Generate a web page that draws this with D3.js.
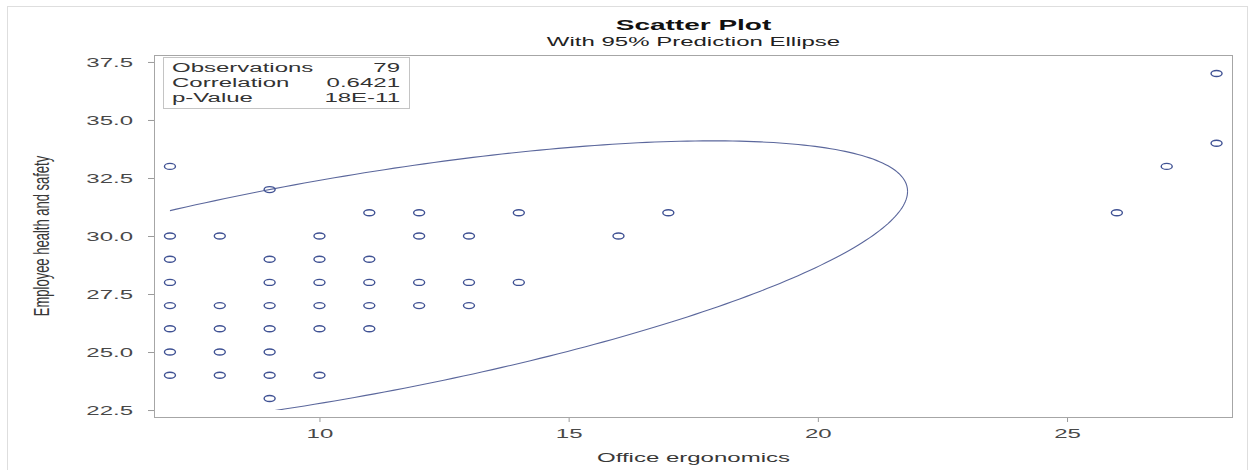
<!DOCTYPE html>
<html>
<head>
<meta charset="utf-8">
<script src="https://cdn.jsdelivr.net/npm/d3@7"></script>
<style>
  body { margin: 0; background: #fff; }
  svg { display: block; }
  text { font-family: "Liberation Sans", Arial, sans-serif; }
</style>
</head>
<body>
<svg id="chart" width="1255" height="470"></svg>
<script>
// Observed pairs (distinct positions; repeated observations overplot)
const officeErgonomics = [
  7, 7, 7, 7, 7, 7, 7, 7,
  8, 8, 8, 8, 8,
  9, 9, 9, 9, 9, 9, 9, 9,
  10, 10, 10, 10, 10, 10,
  11, 11, 11, 11, 11,
  12, 12, 12, 12,
  13, 13, 13,
  14, 14,
  16, 17, 26, 27, 28, 28
];
const employeeSafety = [
  33, 30, 29, 28, 27, 26, 25, 24,
  30, 27, 26, 25, 24,
  32, 29, 28, 27, 26, 25, 24, 23,
  30, 29, 28, 27, 26, 24,
  31, 29, 28, 27, 26,
  31, 30, 28, 27,
  30, 28, 27,
  31, 28,
  30, 31, 31, 33, 37, 34
];

const xTicks = [10, 15, 20, 25];
const yTicks = [22.5, 25.0, 27.5, 30.0, 32.5, 35.0, 37.5];

const statLabels = ["Observations", "Correlation", "p-Value"];
const statValues = ["79", "0.6421", "18E-11"];

// 95% prediction ellipse: centre, half-extent along each axis, correlation
const ellipseCenter = [10.3, 27.7];
const ellipseExtent = [11.5, 6.4];
const ellipseRho = 0.66;
const ellipseWindowX = [7, 28];
const ellipseWindowY = [22.5, 37.5];

const titleText = "Scatter Plot";
const subtitleText = "With 95% Prediction Ellipse";
const xLabel = "Office ergonomics";
const yLabel = "Employee health and safety";

// ---------------------------------------------------------------------------
const svg = d3.select("#chart");
const plot = { left: 154, top: 55, right: 1233, bottom: 417 };
const SX = 2;              // horizontal glyph stretch used by all labels
const markColor = "#3f5193";

const x = d3.scaleLinear().domain([6.68, 28.33]).range([plot.left, plot.right]);
const y = d3.scaleLinear().domain([22.2, 37.8]).range([plot.bottom, plot.top]);

// outer graph border
svg.append("rect")
  .attr("x", 7.5).attr("y", 6.5)
  .attr("width", 1240).attr("height", 480)
  .attr("fill", "none").attr("stroke", "#dedede");

function stretched(sel, px, py, str, size, opts = {}) {
  return sel.append("text")
    .attr("transform", `translate(${px},${py}) scale(${SX},1)`)
    .attr("text-anchor", opts.anchor || "middle")
    .attr("font-size", size)
    .attr("font-weight", opts.weight || "normal")
    .attr("fill", opts.fill || "#333")
    .text(str);
}

// titles
const cx = (plot.left + plot.right) / 2;
stretched(svg, cx, 30, titleText, 14, { weight: "bold", fill: "#111" });
stretched(svg, cx, 46, subtitleText, 12, { fill: "#222" });

// y axis
const yAxis = svg.append("g")
  .attr("transform", `translate(${plot.left},0)`)
  .call(d3.axisLeft(y).tickValues(yTicks).tickFormat(d3.format(".1f")).tickSize(6));
yAxis.select(".domain").remove();
yAxis.selectAll(".tick line").attr("stroke", "#9a9a9a");
yAxis.selectAll(".tick text")
  .attr("x", 0).attr("dy", "0.36em")
  .attr("transform", `translate(-21,0) scale(${SX},1)`)
  .attr("font-size", 12)
  .attr("font-family", "Liberation Sans, Arial, sans-serif")
  .attr("fill", "#484848");

// x axis
const xAxis = svg.append("g")
  .attr("transform", `translate(0,${plot.bottom})`)
  .call(d3.axisBottom(x).tickValues(xTicks).tickFormat(d3.format("d")).tickSize(5));
xAxis.select(".domain").remove();
xAxis.selectAll(".tick line").attr("stroke", "#9a9a9a");
xAxis.selectAll(".tick text")
  .attr("y", 0).attr("dy", 0)
  .attr("transform", `translate(0,21) scale(${SX},1)`)
  .attr("font-size", 12)
  .attr("font-family", "Liberation Sans, Arial, sans-serif")
  .attr("fill", "#484848");

// axis titles
stretched(svg, cx, 462, xLabel, 12, { fill: "#383838" });
svg.append("text")
  .attr("transform", `translate(49,${(plot.top + plot.bottom) / 2}) rotate(-90) scale(1,1.7)`)
  .attr("text-anchor", "middle")
  .attr("font-size", 13)
  .attr("fill", "#383838")
  .text(yLabel);

// plot frame
svg.append("rect")
  .attr("x", plot.left + 0.5).attr("y", plot.top + 0.5)
  .attr("width", plot.right - plot.left - 1).attr("height", plot.bottom - plot.top)
  .attr("fill", "none").attr("stroke", "#a6a6a6");

// ellipse, kept inside the data window
svg.append("clipPath").attr("id", "ellipse-window")
  .append("rect")
  .attr("x", x(ellipseWindowX[0])).attr("y", y(ellipseWindowY[1]))
  .attr("width", x(ellipseWindowX[1]) - x(ellipseWindowX[0]))
  .attr("height", y(ellipseWindowY[0]) - y(ellipseWindowY[1]));

const q = Math.sqrt(1 - ellipseRho * ellipseRho);
const ellipsePts = d3.range(0, 361).map(deg => {
  const t = deg * Math.PI / 180;
  const u = Math.cos(t);
  const v = ellipseRho * Math.cos(t) + q * Math.sin(t);
  return [ellipseCenter[0] + ellipseExtent[0] * u, ellipseCenter[1] + ellipseExtent[1] * v];
});
svg.append("path")
  .datum(ellipsePts)
  .attr("clip-path", "url(#ellipse-window)")
  .attr("fill", "none")
  .attr("stroke", "#5b679c")
  .attr("stroke-width", 1.1)
  .attr("d", d3.line().x(d => x(d[0])).y(d => y(d[1])));

// markers
svg.append("g")
  .selectAll("ellipse")
  .data(d3.range(officeErgonomics.length))
  .join("ellipse")
  .attr("cx", i => x(officeErgonomics[i]))
  .attr("cy", i => y(employeeSafety[i]))
  .attr("rx", 5.5).attr("ry", 3)
  .attr("fill", "none")
  .attr("stroke", markColor)
  .attr("stroke-width", 1.4);

// statistics inset
const inset = svg.append("g");
inset.append("rect")
  .attr("x", 163.5).attr("y", 57.5).attr("width", 246).attr("height", 51)
  .attr("fill", "#fff").attr("stroke", "#c4c4c4");
statLabels.forEach((lab, i) => {
  stretched(inset, 172, 72 + i * 15, lab, 12, { anchor: "start", fill: "#333" });
  stretched(inset, 400, 72 + i * 15, statValues[i], 12, { anchor: "end", fill: "#333" });
});
</script>
</body>
</html>
